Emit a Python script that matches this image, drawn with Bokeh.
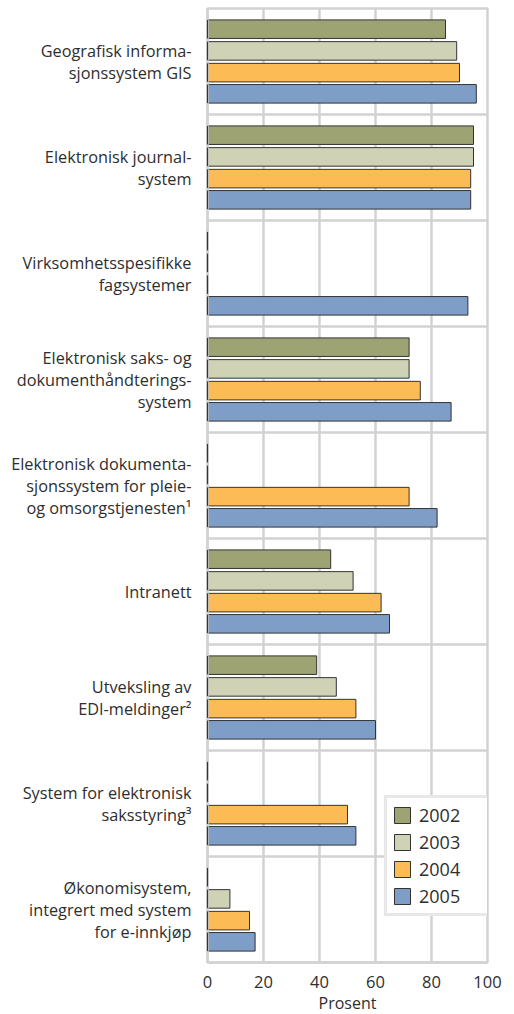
from bokeh.plotting import figure
from bokeh.models import ColumnDataSource, Range1d, FixedTicker, Legend, LegendItem
from bokeh.embed import file_html
from bokeh.resources import INLINE

categories = [
    "Geografisk informa-\nsjonssystem GIS",
    "Elektronisk journal-\nsystem",
    "Virksomhetsspesifikke\nfagsystemer",
    "Elektronisk saks- og\ndokumenthåndterings-\nsystem",
    "Elektronisk dokumenta-\nsjonssystem for pleie-\nog omsorgstjenesten¹",
    "Intranett",
    "Utveksling av\nEDI-meldinger²",
    "System for elektronisk\nsaksstyring³",
    "Økonomisystem,\nintegrert med system\nfor e-innkjøp",
]
years = ["2002", "2003", "2004", "2005"]
v2002 = [85, 95, 0, 72, 0, 44, 39, 0, 0]
v2003 = [89, 95, 0, 72, 0, 52, 46, 0, 8]
v2004 = [90, 94, 0, 76, 72, 62, 53, 50, 15]
v2005 = [96, 94, 93, 87, 82, 65, 60, 53, 17]
series = [v2002, v2003, v2004, v2005]
colors = ["#9ea374", "#cfd2b5", "#fdbb55", "#7f9ec7"]
x_ticks = [0, 20, 40, 60, 80, 100]

GRID = "#d2d2d2"
TEXT = "#2e2e2e"
FONT = "Open Sans"
BAR_H = 0.175

n = len(categories)
p = figure(frame_width=280, frame_height=954,
           x_range=Range1d(0, 100), y_range=Range1d(n, 0),
           output_backend="svg", toolbar_location=None,
           min_border_left=207, min_border_right=19,
           min_border_top=8, min_border_bottom=50)

p.outline_line_color = GRID
p.outline_line_width = 2.5
p.background_fill_color = "white"
p.border_fill_color = "white"

offsets = [-0.305, -0.1, 0.105, 0.305]
items = []
for yr, vals, col, off in zip(years, series, colors, offsets):
    ys = [i + 0.5 + off for i in range(n)]
    src = ColumnDataSource(dict(y=ys, right=vals, left=[0] * n,
                                y0=[y - BAR_H / 2 for y in ys],
                                y1=[y + BAR_H / 2 for y in ys]))
    r = p.hbar(y="y", left="left", right="right", height=BAR_H, source=src,
               fill_color=col, line_color="#333333", line_width=1)
    # left edge of each bar (keeps zero-valued bars visible as a thin line)
    p.segment(x0="left", y0="y0", x1="left", y1="y1", source=src,
              line_color="#333333", line_width=1.2, level="overlay")
    items.append(LegendItem(label=yr, renderers=[r]))

# axes
p.xaxis.ticker = FixedTicker(ticks=x_ticks)
p.xaxis.axis_label = "Prosent"
p.xaxis.axis_label_text_font = FONT
p.xaxis.axis_label_text_font_style = "normal"
p.xaxis.axis_label_text_font_size = "16px"
p.xaxis.axis_label_text_color = TEXT
p.xaxis.axis_label_standoff = 1
p.xaxis.major_label_text_font = FONT
p.xaxis.major_label_text_font_size = "16.5px"
p.xaxis.major_label_text_color = TEXT
p.xaxis.major_label_standoff = 7
p.xaxis.major_tick_line_color = None
p.xaxis.minor_tick_line_color = None
p.xaxis.axis_line_color = GRID
p.xaxis.axis_line_width = 2.5

p.yaxis.ticker = FixedTicker(ticks=[i + 0.5 for i in range(n)])
p.yaxis.major_label_overrides = {i + 0.5: c for i, c in enumerate(categories)}
p.yaxis.major_label_text_font = FONT
p.yaxis.major_label_text_font_size = "16.3px"
p.yaxis.major_label_text_color = TEXT
p.yaxis.major_label_text_line_height = 1.0
p.yaxis.major_label_standoff = 10
p.yaxis.major_tick_line_color = None
p.yaxis.minor_tick_line_color = None
p.yaxis.axis_line_color = GRID
p.yaxis.axis_line_width = 2.5

p.xgrid.ticker = FixedTicker(ticks=x_ticks)
p.xgrid.grid_line_color = GRID
p.xgrid.grid_line_width = 2.5
p.ygrid.ticker = FixedTicker(ticks=list(range(n + 1)))
p.ygrid.grid_line_color = GRID
p.ygrid.grid_line_width = 2.5

legend = Legend(items=items, location=(177, 46),
                glyph_width=20, glyph_height=20,
                label_text_font=FONT, label_text_font_size="18px",
                label_text_color=TEXT, label_standoff=7, label_width=66,
                label_height=20, spacing=3, padding=5, margin=0,
                border_line_color=GRID, border_line_width=3,
                background_fill_color="white", background_fill_alpha=1)
p.add_layout(legend, "center")

open("out.html", "w").write(file_html(p, INLINE))
